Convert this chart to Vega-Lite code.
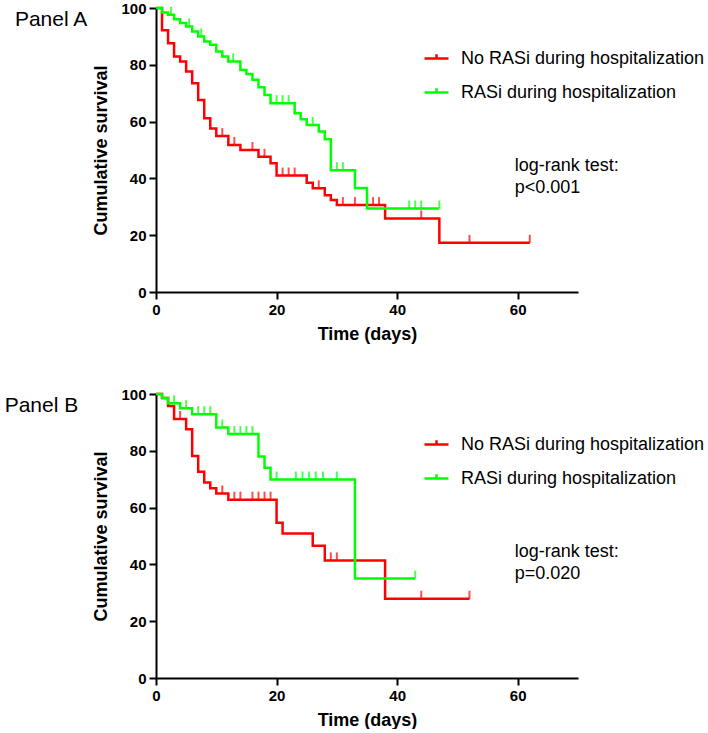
{
  "$schema": "https://vega.github.io/schema/vega-lite/v6.json",
  "padding": {"left": 4, "top": 1, "right": 0, "bottom": 0},
  "datasets": {
    "curveA": [
      {"group": "No RASi during hospitalization", "day": 0, "surv": 100},
      {"group": "No RASi during hospitalization", "day": 1, "surv": 92.2},
      {"group": "No RASi during hospitalization", "day": 2, "surv": 87.6},
      {"group": "No RASi during hospitalization", "day": 3, "surv": 82.9},
      {"group": "No RASi during hospitalization", "day": 4, "surv": 81.2},
      {"group": "No RASi during hospitalization", "day": 5, "surv": 77.6},
      {"group": "No RASi during hospitalization", "day": 6, "surv": 73.5},
      {"group": "No RASi during hospitalization", "day": 7, "surv": 67.6},
      {"group": "No RASi during hospitalization", "day": 8, "surv": 61.2},
      {"group": "No RASi during hospitalization", "day": 9, "surv": 57.6},
      {"group": "No RASi during hospitalization", "day": 10, "surv": 54.9},
      {"group": "No RASi during hospitalization", "day": 12, "surv": 51.8},
      {"group": "No RASi during hospitalization", "day": 14, "surv": 50.0},
      {"group": "No RASi during hospitalization", "day": 17, "surv": 47.6},
      {"group": "No RASi during hospitalization", "day": 19, "surv": 45.3},
      {"group": "No RASi during hospitalization", "day": 20, "surv": 41.0},
      {"group": "No RASi during hospitalization", "day": 25, "surv": 38.5},
      {"group": "No RASi during hospitalization", "day": 26, "surv": 36.5},
      {"group": "No RASi during hospitalization", "day": 28, "surv": 34.1},
      {"group": "No RASi during hospitalization", "day": 29, "surv": 32.4},
      {"group": "No RASi during hospitalization", "day": 30, "surv": 30.6},
      {"group": "No RASi during hospitalization", "day": 38, "surv": 25.9},
      {"group": "No RASi during hospitalization", "day": 47, "surv": 17.3},
      {"group": "No RASi during hospitalization", "day": 62, "surv": 17.3},
      {"group": "RASi during hospitalization", "day": 0, "surv": 100},
      {"group": "RASi during hospitalization", "day": 1, "surv": 98.4},
      {"group": "RASi during hospitalization", "day": 2, "surv": 97.6},
      {"group": "RASi during hospitalization", "day": 3, "surv": 96.0},
      {"group": "RASi during hospitalization", "day": 4, "surv": 94.7},
      {"group": "RASi during hospitalization", "day": 5, "surv": 93.5},
      {"group": "RASi during hospitalization", "day": 6, "surv": 91.7},
      {"group": "RASi during hospitalization", "day": 7, "surv": 90.0},
      {"group": "RASi during hospitalization", "day": 8, "surv": 88.2},
      {"group": "RASi during hospitalization", "day": 9, "surv": 87.1},
      {"group": "RASi during hospitalization", "day": 10, "surv": 84.7},
      {"group": "RASi during hospitalization", "day": 11, "surv": 82.9},
      {"group": "RASi during hospitalization", "day": 12, "surv": 81.2},
      {"group": "RASi during hospitalization", "day": 14, "surv": 78.2},
      {"group": "RASi during hospitalization", "day": 15, "surv": 76.8},
      {"group": "RASi during hospitalization", "day": 16, "surv": 74.7},
      {"group": "RASi during hospitalization", "day": 17, "surv": 72.1},
      {"group": "RASi during hospitalization", "day": 18, "surv": 69.4},
      {"group": "RASi during hospitalization", "day": 19, "surv": 66.5},
      {"group": "RASi during hospitalization", "day": 23, "surv": 62.9},
      {"group": "RASi during hospitalization", "day": 24, "surv": 60.8},
      {"group": "RASi during hospitalization", "day": 25, "surv": 58.8},
      {"group": "RASi during hospitalization", "day": 27, "surv": 56.5},
      {"group": "RASi during hospitalization", "day": 28, "surv": 53.8},
      {"group": "RASi during hospitalization", "day": 29, "surv": 42.9},
      {"group": "RASi during hospitalization", "day": 33, "surv": 36.6},
      {"group": "RASi during hospitalization", "day": 35, "surv": 29.4},
      {"group": "RASi during hospitalization", "day": 47, "surv": 29.4}
    ],
    "censorA": [
      {"group": "No RASi during hospitalization", "day": 11, "surv": 54.9},
      {"group": "No RASi during hospitalization", "day": 13, "surv": 51.8},
      {"group": "No RASi during hospitalization", "day": 16, "surv": 50.0},
      {"group": "No RASi during hospitalization", "day": 18, "surv": 47.6},
      {"group": "No RASi during hospitalization", "day": 21, "surv": 41.0},
      {"group": "No RASi during hospitalization", "day": 22, "surv": 41.0},
      {"group": "No RASi during hospitalization", "day": 23, "surv": 41.0},
      {"group": "No RASi during hospitalization", "day": 27, "surv": 36.5},
      {"group": "No RASi during hospitalization", "day": 31, "surv": 30.6},
      {"group": "No RASi during hospitalization", "day": 33, "surv": 30.6},
      {"group": "No RASi during hospitalization", "day": 36, "surv": 30.6},
      {"group": "No RASi during hospitalization", "day": 37, "surv": 30.6},
      {"group": "No RASi during hospitalization", "day": 44, "surv": 25.9},
      {"group": "No RASi during hospitalization", "day": 52, "surv": 17.3},
      {"group": "No RASi during hospitalization", "day": 62, "surv": 17.3},
      {"group": "RASi during hospitalization", "day": 2.5, "surv": 97.6},
      {"group": "RASi during hospitalization", "day": 5.5, "surv": 93.5},
      {"group": "RASi during hospitalization", "day": 7.5, "surv": 90.0},
      {"group": "RASi during hospitalization", "day": 12.8, "surv": 81.2},
      {"group": "RASi during hospitalization", "day": 20, "surv": 66.5},
      {"group": "RASi during hospitalization", "day": 21, "surv": 66.5},
      {"group": "RASi during hospitalization", "day": 22, "surv": 66.5},
      {"group": "RASi during hospitalization", "day": 26, "surv": 58.8},
      {"group": "RASi during hospitalization", "day": 30, "surv": 42.9},
      {"group": "RASi during hospitalization", "day": 31, "surv": 42.9},
      {"group": "RASi during hospitalization", "day": 42, "surv": 29.4},
      {"group": "RASi during hospitalization", "day": 43, "surv": 29.4},
      {"group": "RASi during hospitalization", "day": 44, "surv": 29.4},
      {"group": "RASi during hospitalization", "day": 47, "surv": 29.4}
    ],
    "curveB": [
      {"group": "No RASi during hospitalization", "day": 0, "surv": 100},
      {"group": "No RASi during hospitalization", "day": 1, "surv": 98.6},
      {"group": "No RASi during hospitalization", "day": 2, "surv": 95.8},
      {"group": "No RASi during hospitalization", "day": 3, "surv": 91.2},
      {"group": "No RASi during hospitalization", "day": 5, "surv": 87.6},
      {"group": "No RASi during hospitalization", "day": 6, "surv": 78.2},
      {"group": "No RASi during hospitalization", "day": 7, "surv": 72.6},
      {"group": "No RASi during hospitalization", "day": 8, "surv": 68.8},
      {"group": "No RASi during hospitalization", "day": 9, "surv": 66.8},
      {"group": "No RASi during hospitalization", "day": 10, "surv": 65.0},
      {"group": "No RASi during hospitalization", "day": 12, "surv": 62.8},
      {"group": "No RASi during hospitalization", "day": 20, "surv": 54.7},
      {"group": "No RASi during hospitalization", "day": 21, "surv": 50.9},
      {"group": "No RASi during hospitalization", "day": 26, "surv": 46.6},
      {"group": "No RASi during hospitalization", "day": 28, "surv": 41.4},
      {"group": "No RASi during hospitalization", "day": 38, "surv": 27.9},
      {"group": "No RASi during hospitalization", "day": 52, "surv": 27.9},
      {"group": "RASi during hospitalization", "day": 0, "surv": 100},
      {"group": "RASi during hospitalization", "day": 1, "surv": 98.6},
      {"group": "RASi during hospitalization", "day": 2, "surv": 96.7},
      {"group": "RASi during hospitalization", "day": 4, "surv": 95.0},
      {"group": "RASi during hospitalization", "day": 6, "surv": 92.9},
      {"group": "RASi during hospitalization", "day": 10, "surv": 88.2},
      {"group": "RASi during hospitalization", "day": 12, "surv": 85.9},
      {"group": "RASi during hospitalization", "day": 17, "surv": 78.0},
      {"group": "RASi during hospitalization", "day": 18, "surv": 74.0},
      {"group": "RASi during hospitalization", "day": 19, "surv": 69.9},
      {"group": "RASi during hospitalization", "day": 33, "surv": 35.0},
      {"group": "RASi during hospitalization", "day": 43, "surv": 35.0}
    ],
    "censorB": [
      {"group": "No RASi during hospitalization", "day": 4, "surv": 91.2},
      {"group": "No RASi during hospitalization", "day": 11, "surv": 65.0},
      {"group": "No RASi during hospitalization", "day": 13, "surv": 62.8},
      {"group": "No RASi during hospitalization", "day": 14, "surv": 62.8},
      {"group": "No RASi during hospitalization", "day": 16, "surv": 62.8},
      {"group": "No RASi during hospitalization", "day": 17, "surv": 62.8},
      {"group": "No RASi during hospitalization", "day": 18, "surv": 62.8},
      {"group": "No RASi during hospitalization", "day": 19, "surv": 62.8},
      {"group": "No RASi during hospitalization", "day": 29, "surv": 41.4},
      {"group": "No RASi during hospitalization", "day": 30, "surv": 41.4},
      {"group": "No RASi during hospitalization", "day": 44, "surv": 27.9},
      {"group": "No RASi during hospitalization", "day": 52, "surv": 27.9},
      {"group": "RASi during hospitalization", "day": 3, "surv": 96.7},
      {"group": "RASi during hospitalization", "day": 5, "surv": 95.0},
      {"group": "RASi during hospitalization", "day": 7, "surv": 92.9},
      {"group": "RASi during hospitalization", "day": 8, "surv": 92.9},
      {"group": "RASi during hospitalization", "day": 9, "surv": 92.9},
      {"group": "RASi during hospitalization", "day": 11, "surv": 88.2},
      {"group": "RASi during hospitalization", "day": 13, "surv": 85.9},
      {"group": "RASi during hospitalization", "day": 14, "surv": 85.9},
      {"group": "RASi during hospitalization", "day": 15, "surv": 85.9},
      {"group": "RASi during hospitalization", "day": 16, "surv": 85.9},
      {"group": "RASi during hospitalization", "day": 20, "surv": 69.9},
      {"group": "RASi during hospitalization", "day": 23.2, "surv": 69.9},
      {"group": "RASi during hospitalization", "day": 24.3, "surv": 69.9},
      {"group": "RASi during hospitalization", "day": 25.4, "surv": 69.9},
      {"group": "RASi during hospitalization", "day": 26.5, "surv": 69.9},
      {"group": "RASi during hospitalization", "day": 27.7, "surv": 69.9},
      {"group": "RASi during hospitalization", "day": 30, "surv": 69.9},
      {"group": "RASi during hospitalization", "day": 43, "surv": 35.0}
    ]
  },
  "vconcat": [
    {
      "width": 422,
      "height": 284,
      "layer": [
        {
          "data": {"name": "curveA"},
          "mark": {"type": "line", "interpolate": "step-after", "strokeWidth": 2.5},
          "encoding": {
            "x": {"field": "day", "type": "quantitative", "scale": {"domain": [0, 70], "nice": false}, "axis": {"title": "Time (days)", "values": [0, 20, 40, 60]}},
            "y": {"field": "surv", "type": "quantitative", "scale": {"domain": [0, 100], "nice": false}, "axis": {"title": "Cumulative survival", "values": [0, 20, 40, 60, 80, 100]}},
            "color": {
              "field": "group", "type": "nominal",
              "scale": {"domain": ["No RASi during hospitalization", "RASi during hospitalization"], "range": ["#FF0000", "#00FF00"]},
              "legend": {"orient": "none", "legendX": 267, "legendY": 37}
            }
          }
        },
        {
          "data": {"name": "censorA"},
          "mark": {"type": "tick", "orient": "vertical", "size": 8, "thickness": 2, "yOffset": -4},
          "encoding": {
            "x": {"field": "day", "type": "quantitative"},
            "y": {"field": "surv", "type": "quantitative"},
            "color": {"field": "group", "type": "nominal", "legend": null}
          }
        },
        {
          "data": {"values": [{}]},
          "mark": {"type": "text", "text": "Panel A", "align": "left", "baseline": "middle", "fontSize": 21},
          "encoding": {"x": {"datum": -23.4}, "y": {"datum": 95.6}}
        },
        {
          "data": {"values": [{}]},
          "mark": {"type": "text", "text": ["log-rank test:", "p<0.001"], "align": "left", "baseline": "middle", "fontSize": 18, "lineHeight": 22},
          "encoding": {"x": {"datum": 59.5}, "y": {"datum": 44.4}}
        }
      ]
    },
    {
      "width": 422,
      "height": 284,
      "layer": [
        {
          "data": {"name": "curveB"},
          "mark": {"type": "line", "interpolate": "step-after", "strokeWidth": 2.5},
          "encoding": {
            "x": {"field": "day", "type": "quantitative", "scale": {"domain": [0, 70], "nice": false}, "axis": {"title": "Time (days)", "values": [0, 20, 40, 60]}},
            "y": {"field": "surv", "type": "quantitative", "scale": {"domain": [0, 100], "nice": false}, "axis": {"title": "Cumulative survival", "values": [0, 20, 40, 60, 80, 100]}},
            "color": {
              "field": "group", "type": "nominal",
              "scale": {"domain": ["No RASi during hospitalization", "RASi during hospitalization"], "range": ["#FF0000", "#00FF00"]},
              "legend": {"orient": "none", "legendX": 267, "legendY": 37}
            }
          }
        },
        {
          "data": {"name": "censorB"},
          "mark": {"type": "tick", "orient": "vertical", "size": 8, "thickness": 2, "yOffset": -4},
          "encoding": {
            "x": {"field": "day", "type": "quantitative"},
            "y": {"field": "surv", "type": "quantitative"},
            "color": {"field": "group", "type": "nominal", "legend": null}
          }
        },
        {
          "data": {"values": [{}]},
          "mark": {"type": "text", "text": "Panel B", "align": "left", "baseline": "middle", "fontSize": 21},
          "encoding": {"x": {"datum": -25.1}, "y": {"datum": 95.9}}
        },
        {
          "data": {"values": [{}]},
          "mark": {"type": "text", "text": ["log-rank test:", "p=0.020"], "align": "left", "baseline": "middle", "fontSize": 18, "lineHeight": 22},
          "encoding": {"x": {"datum": 59.5}, "y": {"datum": 44.4}}
        }
      ]
    }
  ],
  "spacing": 44,
  "resolve": {"legend": {"color": "independent"}},
  "config": {
    "font": "Liberation Sans",
    "view": {"stroke": null},
    "text": {"color": "#000000"},
    "axis": {
      "grid": false,
      "domainColor": "#000000",
      "domainWidth": 2,
      "tickColor": "#000000",
      "tickWidth": 2,
      "tickSize": 7,
      "labelColor": "#000000",
      "labelFontSize": 15,
      "labelFontWeight": "bold",
      "labelPadding": 3,
      "labelFlush": false,
      "labelOverlap": false,
      "titleColor": "#000000",
      "titleFontSize": 18,
      "titleFontWeight": "bold"
    },
    "axisX": {"titlePadding": 8},
    "axisY": {"titlePadding": 10},
    "legend": {
      "title": null,
      "symbolType": "M-1,0H1M0,0V-0.35",
      "symbolSize": 576,
      "symbolStrokeWidth": 2.5,
      "labelFontSize": 18,
      "labelColor": "#000000",
      "labelOffset": 11,
      "rowPadding": 11,
      "labelLimit": 400
    }
  }
}
